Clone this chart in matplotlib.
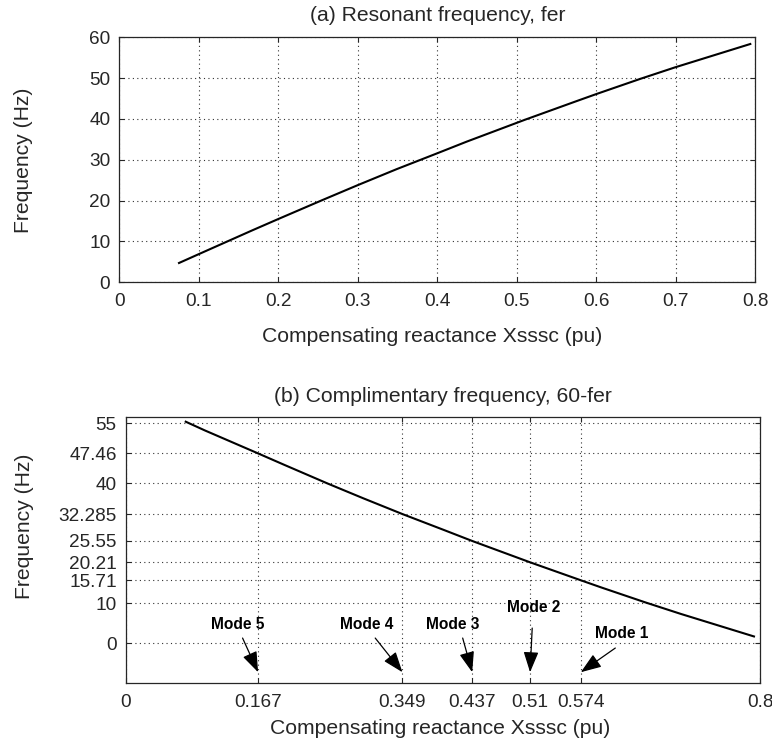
import matplotlib
matplotlib.use("Agg")
import matplotlib.pyplot as plt

# ---- data (a) resonant frequency ----
xa = [0.0751, 0.1, 0.167, 0.2, 0.255, 0.3, 0.349, 0.4, 0.437, 0.51, 0.574, 0.6, 0.655, 0.7, 0.7937]
fer = [4.73, 6.9, 12.7, 15.5, 20.1, 23.8, 27.72, 31.6, 34.45, 39.79, 44.29, 46.1, 49.8, 52.7, 58.36]

# ---- data (b) complementary frequency ----
xb = [0.0757, 0.1, 0.167, 0.2, 0.255, 0.3, 0.349, 0.4, 0.437, 0.51, 0.574, 0.6, 0.655, 0.7, 0.7924]
fcomp = [55.4, 53.2, 47.46, 44.6, 39.9, 36.2, 32.285, 28.4, 25.55, 20.21, 15.71, 13.9, 10.2, 7.3, 1.65]

xticks_a = [0, 0.1, 0.2, 0.3, 0.4, 0.5, 0.6, 0.7, 0.8]
xticklabels_a = ["0", "0.1", "0.2", "0.3", "0.4", "0.5", "0.6", "0.7", "0.8"]
yticks_a = [0, 10, 20, 30, 40, 50, 60]

xticks_b = [0, 0.167, 0.349, 0.437, 0.51, 0.574, 0.8]
xticklabels_b = ["0", "0.167", "0.349", "0.437", "0.51", "0.574", "0.8"]
yticks_b = [0, 10, 15.71, 20.21, 25.55, 32.285, 40, 47.46, 55]
yticklabels_b = ["0", "10", "15.71", "20.21", "25.55", "32.285", "40", "47.46", "55"]

# mode annotations: label, text pos, arrow tail, arrow head
modes = ["Mode 5", "Mode 4", "Mode 3", "Mode 2", "Mode 1"]
mode_text = [(0.141, 4.6), (0.3035, 4.6), (0.4128, 4.6), (0.5146, 9.0), (0.625, 2.3)]
mode_tail = [(0.1474, 1.25), (0.3147, 1.25), (0.425, 1.25), (0.5127, 3.75), (0.6175, -1.25)]
mode_head = [(0.167, -7.3), (0.349, -7.3), (0.437, -7.3), (0.51, -7.3), (0.574, -7.3)]

plt.rcParams['font.family'] = ['Liberation Sans', 'DejaVu Sans']
TXT = '#262626'
TICK_FS = 13.7
LAB_FS = 15.2

fig = plt.figure(figsize=(7.72, 7.46), dpi=100)
W, H = 772, 746

def add_ax(l, r, t, b):
    return fig.add_axes([l / W, 1 - b / H, (r - l) / W, (b - t) / H])

axa = add_ax(119.3, 755.3, 37.3, 282.3)
axb = add_ax(125.7, 760.0, 417.3, 683.0)

def style(ax):
    ax.grid(True, linestyle=(0, (1, 3)), color='#333333', linewidth=0.8)
    ax.tick_params(direction='in', top=True, right=True, length=3.4, width=0.8,
                   labelsize=TICK_FS, labelcolor=TXT, colors='#262626')
    ax.tick_params(axis='x', pad=7.7)
    ax.tick_params(axis='y', pad=6.5)
    for s in ax.spines.values():
        s.set_linewidth(0.9)
        s.set_color('#262626')
    ax.set_axisbelow(True)

def px_to_axes(ax, l, r, t, b, px, py):
    return ((px - l) / (r - l), (b - py) / (b - t))

# (a)
axa.plot(xa, fer, color='black', linewidth=1.5)
axa.set_xlim(0, 0.8)
axa.set_ylim(0, 60)
axa.set_xticks(xticks_a)
axa.set_xticklabels(xticklabels_a)
axa.set_yticks(yticks_a)
style(axa)
axa.set_title("(a) Resonant frequency, fer", fontsize=LAB_FS, color=TXT, pad=12)
axa.set_xlabel("Compensating reactance Xsssc (pu)", fontsize=LAB_FS, color=TXT)
axa.set_ylabel("Frequency (Hz)", fontsize=LAB_FS, color=TXT)
axa.xaxis.set_label_coords(*px_to_axes(axa, 119.3, 755.3, 37.3, 282.3, 432, 337), transform=axa.transAxes)
axa.xaxis.label.set_va('center')
axa.yaxis.set_label_coords(*px_to_axes(axa, 119.3, 755.3, 37.3, 282.3, 23.5, 160), transform=axa.transAxes)
axa.yaxis.label.set_va('center')

# (b)
axb.plot(xb, fcomp, color='black', linewidth=1.5)
axb.set_xlim(0, 0.8)
axb.set_ylim(-10, 56.5)
axb.set_xticks(xticks_b)
axb.set_xticklabels(xticklabels_b)
axb.set_yticks(yticks_b)
axb.set_yticklabels(yticklabels_b)
style(axb)
axb.set_title("(b) Complimentary frequency, 60-fer", fontsize=LAB_FS, color=TXT, pad=11)
axb.set_xlabel("Compensating reactance Xsssc (pu)", fontsize=LAB_FS, color=TXT)
axb.set_ylabel("Frequency (Hz)", fontsize=LAB_FS, color=TXT)
axb.xaxis.set_label_coords(*px_to_axes(axb, 125.7, 760.0, 417.3, 683.0, 440.5, 729), transform=axb.transAxes)
axb.xaxis.label.set_va('center')
axb.yaxis.set_label_coords(*px_to_axes(axb, 125.7, 760.0, 417.3, 683.0, 24.5, 526), transform=axb.transAxes)
axb.yaxis.label.set_va('center')

for lab, tp, tail, head in zip(modes, mode_text, mode_tail, mode_head):
    axb.text(tp[0], tp[1], lab, ha='center', va='center', fontsize=11.2,
             fontweight='bold', color='black')
    axb.annotate("", xy=head, xytext=tail,
                 arrowprops=dict(arrowstyle="-|>,head_length=0.9,head_width=0.33",
                                 color='black', lw=0.9, shrinkA=0, shrinkB=0,
                                 mutation_scale=14))

fig.savefig("out.png", dpi=100)
